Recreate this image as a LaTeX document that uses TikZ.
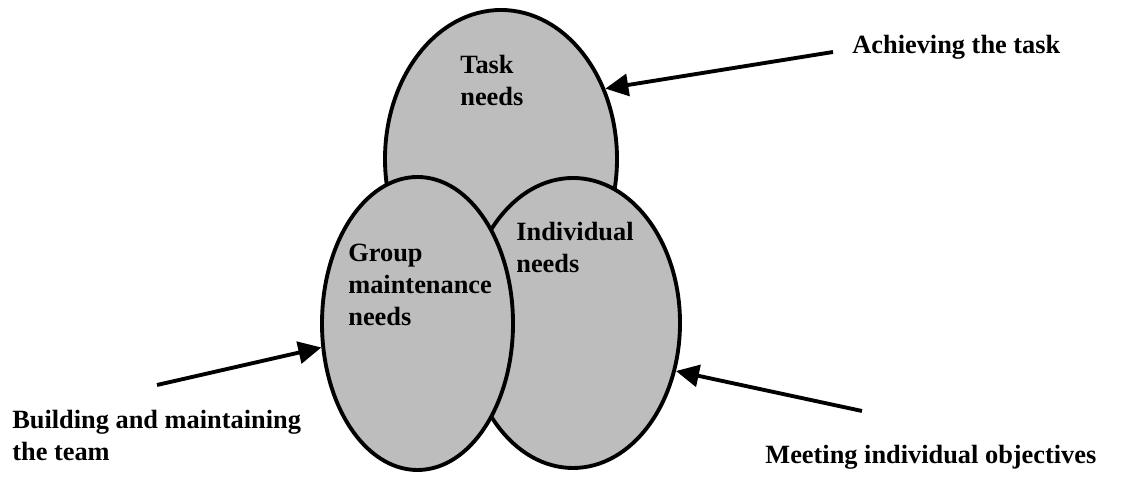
\documentclass[tikz,border=0pt]{standalone}
\usepackage{fontspec}
\setmainfont{Liberation Serif}
\usetikzlibrary{shapes.geometric}
\usetikzlibrary{arrows.meta}
\usetikzlibrary{positioning}
\definecolor{needgray}{gray}{0.74}
\tikzstyle{need} = [ellipse, draw=black, fill=needgray, line width=2.2pt,
inner sep=0pt]
\tikzstyle{needtext} = [anchor=north west, inner sep=0pt, align=left]
\tikzstyle{goal} = [needtext]
\newcommand{\pointer}[2]{ %
  % thick arrow from a free end onto a need
  \draw[line width=2.2pt, -{Triangle[length=4.6mm,width=4.4mm]}] (#1) -- (#2) ;%
}
\tikzset{
  font={\fontsize{15pt}{18pt}\selectfont\bfseries}
}

\begin{document}
\begin{tikzpicture}
    \useasboundingbox (0,0) rectangle (22.5,9.54);
    \node[need, minimum width=4.64cm, minimum height=5.96cm](task) at (10.02,6.36) {};
    \node[need, minimum width=4.28cm, minimum height=5.80cm](indiv) at (11.46,3.08) {};
    \node[need, minimum width=3.82cm, minimum height=5.86cm](group) at (8.35,3.07) {};
    \node[needtext](tasktext) at (9.20,8.44) {Task\\needs};
    \node[needtext](indivtext) at (10.32,5.10) {Individual\\needs};
    \node[needtext](grouptext) at (6.96,4.66) {Group\\maintenance\\needs};
    \node[goal](achieve) at (17.04,8.84) {Achieving the task};
    \node[goal](build) at (0.24,1.34) {Building and maintaining\\the team};
    \node[goal](meet) at (15.30,0.64) {Meeting individual objectives};
    \coordinate (achievetail) at (16.66,8.50);
    \coordinate (buildtail) at (3.14,1.84);
    \coordinate (meettail) at (17.24,1.32);
    \pointer{achievetail}{task.34}
    \pointer{buildtail}{group.-166}
    \pointer{meettail}{indiv.-25}
\end{tikzpicture}
\end{document}
